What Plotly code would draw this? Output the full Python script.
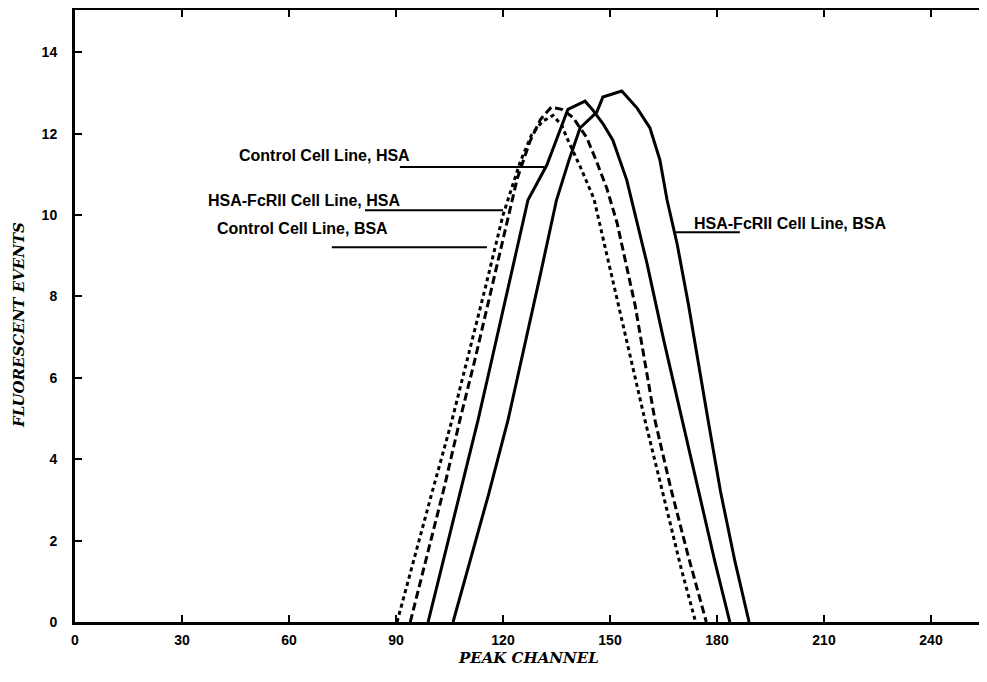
import plotly.graph_objects as go

# ---- data ----
ctrl_bsa_x = [90.3, 95, 100, 105.7, 110, 115, 120, 124.8, 128, 131, 134, 136.5, 137.9, 141.6, 145.5, 150, 155, 159.8, 165, 170, 174]
ctrl_bsa_y = [0, 1.55, 3.15, 4.96, 6.45, 8.2, 10.0, 11.3, 11.97, 12.3, 12.45, 12.2, 11.9, 11.2, 10.4, 8.7, 6.8, 4.96, 3.1, 1.3, 0]

fcr_hsa_x = [94, 99, 103.5, 107.9, 112, 116, 120.5, 124, 127.5, 130.5, 133.5, 136.5, 139.6, 143.5, 146.3, 149.1, 152, 157, 162.6, 167, 172, 177]
fcr_hsa_y = [0, 1.7, 3.3, 4.96, 6.4, 7.9, 9.6, 10.9, 11.8, 12.35, 12.65, 12.6, 12.4, 11.9, 11.3, 10.66, 9.8, 7.8, 4.96, 3.3, 1.6, 0]

ctrl_hsa_x = [99, 106, 113, 117, 122, 127, 132.3, 135.5, 138.2, 143, 145.2, 148, 150.8, 154.7, 160.4, 165, 170.2, 175.5, 179.5, 183.6]
ctrl_hsa_y = [0, 2.5, 4.96, 6.5, 8.4, 10.37, 11.23, 11.95, 12.6, 12.8, 12.58, 12.25, 11.84, 10.86, 8.8, 6.95, 4.96, 2.9, 1.45, 0]

fcr_bsa_x = [106, 111, 116, 121.4, 126, 130.5, 135, 138.5, 141.6, 146.3, 148, 153.3, 157.6, 161.2, 164, 166, 168.8, 172, 177.5, 181, 185, 189]
fcr_bsa_y = [0, 1.55, 3.15, 4.96, 6.75, 8.55, 10.37, 11.35, 12.14, 12.53, 12.9, 13.05, 12.63, 12.14, 11.35, 10.37, 9.3, 7.8, 4.96, 3.2, 1.5, 0]

series_names = ["Control Cell Line, BSA", "HSA-FcRII Cell Line, HSA",
                "Control Cell Line, HSA", "HSA-FcRII Cell Line, BSA"]

x_ticks = [0, 30, 60, 90, 120, 150, 180, 210, 240]
y_ticks = [0, 2, 4, 6, 8, 10, 12, 14]

x_title = "PEAK CHANNEL"
y_title = "FLUORESCENT EVENTS"

# ---- figure ----
fig = go.Figure()
styles = [
    dict(color="black", width=3, dash="4px,3.5px"),
    dict(color="black", width=3, dash="8px,4px"),
    dict(color="black", width=3),
    dict(color="black", width=3),
]
for (xs, ys), name, st in zip(
        [(ctrl_bsa_x, ctrl_bsa_y), (fcr_hsa_x, fcr_hsa_y),
         (ctrl_hsa_x, ctrl_hsa_y), (fcr_bsa_x, fcr_bsa_y)],
        series_names, styles):
    fig.add_trace(go.Scatter(x=xs, y=ys, mode="lines", name=name,
                             line=st, showlegend=False, hoverinfo="skip"))

lab_font = dict(family="Liberation Sans, Arial, sans-serif", size=16, color="black", weight="bold")

# label annotations: (text, x, y, xanchor, leader x0, leader x1, leader y)
labels = [
    ("Control Cell Line, HSA", 94.5, 11.47, "right", 91.1, 132.3, 11.18),
    ("HSA-FcRII Cell Line, HSA", 91.7, 10.36, "right", 81.3, 120.0, 10.12),
    ("Control Cell Line, BSA", 88.3, 9.68, "right", 72.0, 115.5, 9.21),
    ("HSA-FcRII Cell Line, BSA", 173.0, 9.80, "left", 168.5, 186.4, 9.58),
]
for text, tx, ty, xa, lx0, lx1, ly in labels:
    fig.add_annotation(x=tx, y=ty, xref="x", yref="y", text=text, showarrow=False,
                       xanchor=xa, yanchor="middle", font=lab_font)
    fig.add_shape(type="line", xref="x", yref="y", x0=lx0, x1=lx1, y0=ly, y1=ly,
                  line=dict(color="black", width=2))

title_font = dict(family="DejaVu Serif, serif", size=15, color="black", weight="bold", style="italic")
fig.add_annotation(x=(528 - 75) / 912, y=-36 / 612, xref="paper", yref="paper",
                   text=x_title, showarrow=False, xanchor="center", yanchor="middle",
                   font=title_font)
fig.add_annotation(x=(19 - 75) / 912, y=(622 - 325) / 612, xref="paper", yref="paper",
                   text=y_title, showarrow=False, xanchor="center", yanchor="middle",
                   textangle=-90, font=title_font)

tick_font = dict(family="Liberation Sans, Arial, sans-serif", size=14, color="black", weight="bold")
fig.update_xaxes(range=[0, 255.7], tickvals=x_ticks, ticktext=[str(v) for v in x_ticks],
                 ticks="inside", ticklen=7, tickwidth=2, tickcolor="black",
                 showline=True, linewidth=3, linecolor="black", mirror="ticks",
                 showgrid=False, zeroline=False, tickfont=tick_font, ticklabelstandoff=3)
fig.update_yaxes(range=[0, 15.04], tickvals=y_ticks, ticktext=[str(v) for v in y_ticks],
                 ticks="inside", ticklen=7, tickwidth=2, tickcolor="black",
                 showline=True, linewidth=3, linecolor="black", mirror=False,
                 showgrid=False, zeroline=False, tickfont=tick_font, ticklabelstandoff=12)

# the page body has an 8px margin; size the figure so the plot lands where the reference has it
fig.update_layout(width=979, height=674, margin=dict(l=67, r=0, t=2, b=60),
                  paper_bgcolor="white", plot_bgcolor="white", showlegend=False)

fig.write_html("out.html")
